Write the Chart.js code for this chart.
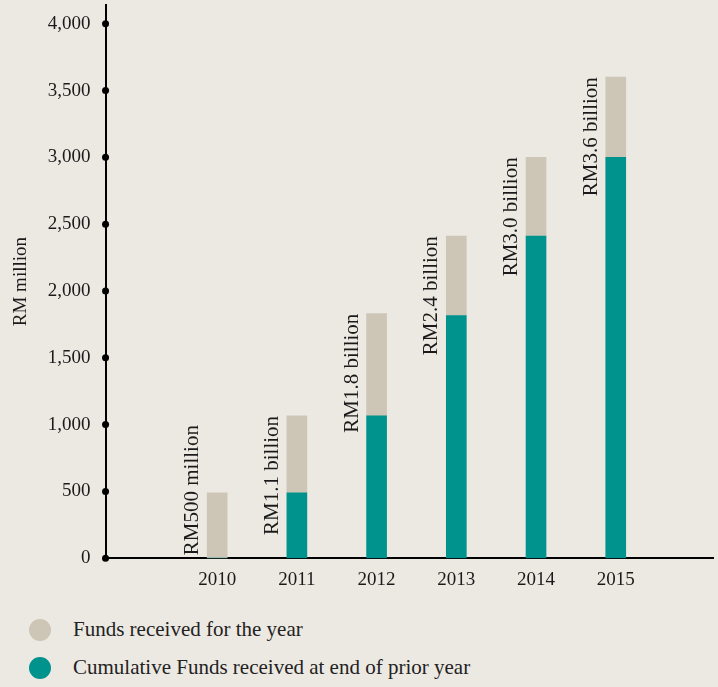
<!DOCTYPE html>
<html>
<head>
<meta charset="utf-8">
<script src="https://cdn.jsdelivr.net/npm/chart.js@4.4.0/dist/chart.umd.min.js"></script>
<style>
    html, body { margin: 0; padding: 0; background: #ECE9E2; }
    #wrap { width: 718px; height: 593px; position: relative; }
    #legend { font-family: "Liberation Serif", serif; font-size: 21px; color: #222; }
    .item { position: absolute; left: 29px; display: flex; align-items: center; }
    .dot { width: 22px; height: 22px; border-radius: 50%; margin-right: 22px; }
</style>
</head>
<body>
<div id="wrap"><canvas id="barChart"></canvas></div>
<div id="legend"></div>
<script>
const years = [2010, 2011, 2012, 2013, 2014, 2015];
const priorCumulative = [0, 490, 1065, 1815, 2410, 3000];
const receivedForYear = [490, 575, 765, 595, 590, 600];
const totalLabels = ["RM500 million", "RM1.1 billion", "RM1.8 billion", "RM2.4 billion", "RM3.0 billion", "RM3.6 billion"];
const yTicks = [0, 500, 1000, 1500, 2000, 2500, 3000, 3500, 4000];
const seriesNames = ["Funds received for the year", "Cumulative Funds received at end of prior year"];
const colours = ["#CDC6B7", "#00928C"];

const serif = "'Liberation Serif', serif";

/**
 * Dots on the y axis at each tick and
 * the rotated total labels next to the bars.
 */
const decorations = {
    id: "decorations",
    afterDatasetsDraw(chart) {
        const ctx = chart.ctx;
        const y = chart.scales.y;
        const x = chart.scales.x;
        ctx.save();
        ctx.fillStyle = "#000";
        yTicks.forEach(v => {
            ctx.beginPath();
            ctx.arc(x.left, y.getPixelForValue(v), 3.5, 0, Math.PI * 2);
            ctx.fill();
        });

        ctx.font = "21px " + serif;
        ctx.fillStyle = "#1a1a1a";
        // top of the stack is the "for the year" dataset
        const meta = chart.getDatasetMeta(1);
        years.forEach((yr, i) => {
            const bar = meta.data[i];
            const text = totalLabels[i];
            const w = ctx.measureText(text).width;
            const top = Math.min(bar.y, y.bottom - 3 - w);
            const left = bar.x - 14;
            ctx.save();
            ctx.translate(left, top + w);
            ctx.rotate(-Math.PI / 2);
            ctx.textAlign = "left";
            ctx.textBaseline = "bottom";
            ctx.fillText(text, 0, 0);
            ctx.restore();
        });
        ctx.restore();
    }
};

function showBarChart() {
    const ctx = document.getElementById("barChart");
    new Chart(ctx, {
        type: "bar",
        data: {
            datasets: [{
                label: seriesNames[1],
                data: years.map((yr, i) => ({ x: yr, y: priorCumulative[i] })),
                backgroundColor: colours[1],
                barThickness: 20,
                stack: "s"
            }, {
                label: seriesNames[0],
                data: years.map((yr, i) => ({ x: yr, y: receivedForYear[i] })),
                backgroundColor: colours[0],
                barThickness: 20,
                stack: "s"
            }]
        },
        options: {
            responsive: true,
            maintainAspectRatio: false,
            animation: false,
            layout: { padding: { top: 5, right: 5, left: 10, bottom: 0 } },
            plugins: {
                legend: { display: false },
                tooltip: { enabled: false }
            },
            scales: {
                x: {
                    type: "linear",
                    stacked: true,
                    offset: false,
                    min: 2008.6,
                    max: 2016.22,
                    afterBuildTicks: axis => { axis.ticks = years.map(v => ({ value: v })); },
                    grid: { display: false },
                    border: { color: "#000", width: 2 },
                    ticks: {
                        color: "#1a1a1a",
                        font: { family: serif, size: 19 },
                        callback: v => String(v),
                        padding: 2,
                        maxRotation: 0
                    }
                },
                y: {
                    stacked: true,
                    min: 0,
                    max: 4140,
                    afterBuildTicks: axis => { axis.ticks = yTicks.map(v => ({ value: v })); },
                    afterFit: axis => { axis.paddingTop = 0; axis.paddingBottom = 0; },
                    grid: { display: false },
                    border: { color: "#000", width: 2 },
                    title: {
                        display: true,
                        text: "RM million",
                        color: "#1a1a1a",
                        font: { family: serif, size: 19 },
                        padding: { top: 0, bottom: 8 }
                    },
                    ticks: {
                        color: "#1a1a1a",
                        font: { family: serif, size: 19 },
                        padding: 7,
                        callback: v => v.toLocaleString("en-US")
                    }
                }
            }
        },
        plugins: [decorations]
    });
}

function showLegend() {
    const el = document.getElementById("legend");
    const tops = [617, 655];
    seriesNames.forEach((name, i) => {
        const item = document.createElement("div");
        item.className = "item";
        item.style.top = tops[i] + "px";
        item.innerHTML = '<span class="dot" style="background:' + colours[i] + '"></span><span>' + name + '</span>';
        el.appendChild(item);
    });
}

showBarChart();
showLegend();
</script>
</body>
</html>
